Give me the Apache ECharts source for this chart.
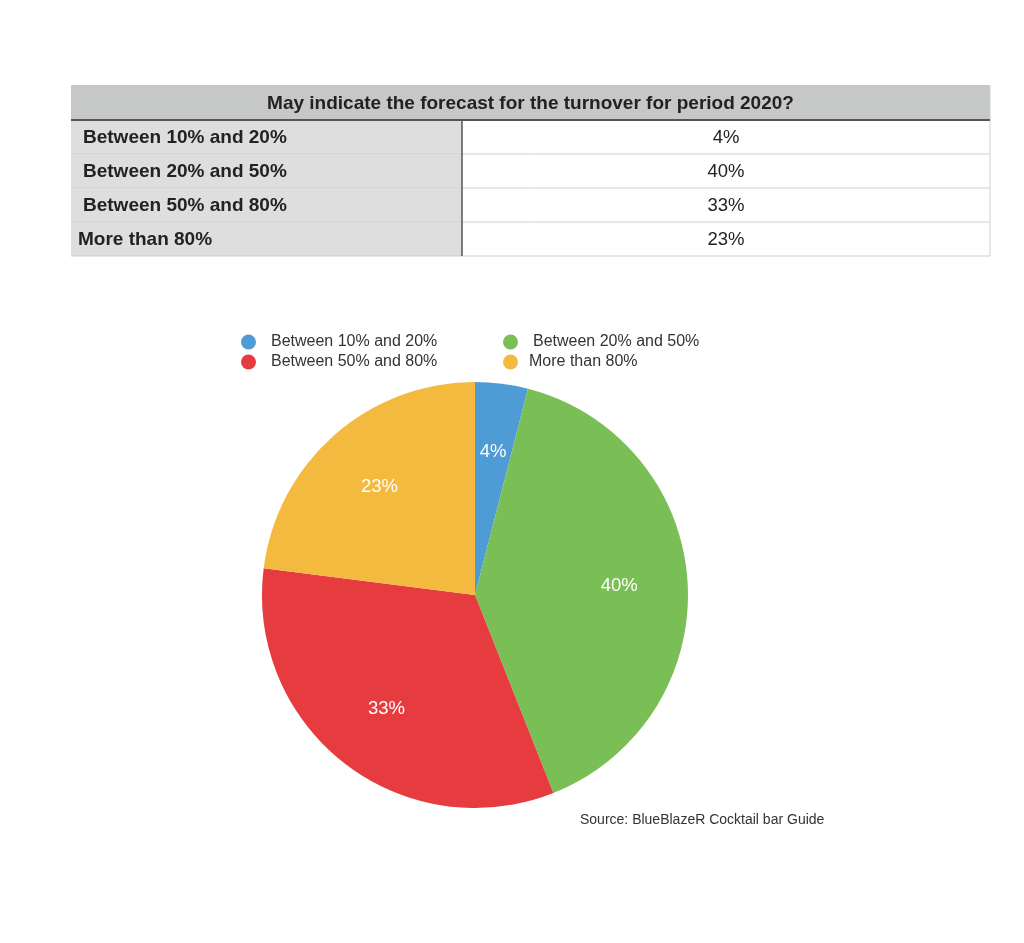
<!DOCTYPE html>
<html><head><meta charset="utf-8">
<script src="https://cdn.jsdelivr.net/npm/echarts@6/dist/echarts.min.js"></script>
<style>html,body{margin:0;padding:0;background:#fff}#c{width:1024px;height:943px}</style>
</head><body><div id="c"></div>
<script>
const tableTitle = 'May indicate the forecast for the turnover for period 2020?';
const categories = ['Between 10% and 20%', 'Between 20% and 50%', 'Between 50% and 80%', 'More than 80%'];
const values = [4, 40, 33, 23];
const valueLabels = ['4%', '40%', '33%', '23%'];
const colors = ['#4e9bd6', '#7abf56', '#e63c40', '#f4ba3f'];
const sourceText = 'Source: BlueBlazeR Cocktail bar Guide';

const FONT = '"Liberation Sans", Arial, Helvetica, sans-serif';
const chart = echarts.init(document.getElementById('c'), null, {renderer: 'canvas'});

// table graphics
const T = {x0: 71, x1: 990, xm: 462, headTop: 85, headBot: 120, rowH: 34};
const g = [];
g.push({type: 'rect', shape: {x: T.x0, y: T.headTop, width: T.x1 - T.x0, height: T.headBot - T.headTop}, style: {fill: '#c6c8c7'}});
g.push({type: 'text', style: {text: tableTitle, x: (T.x0 + T.x1) / 2, y: (T.headTop + T.headBot) / 2 + 1, align: 'center', verticalAlign: 'middle', font: 'bold 19px ' + FONT, fill: '#222'}});
categories.forEach((c, i) => {
  const y = T.headBot + i * T.rowH;
  g.push({type: 'rect', shape: {x: T.x0, y: y, width: T.xm - T.x0, height: T.rowH}, style: {fill: '#dedede'}});
  g.push({type: 'line', shape: {x1: T.x0, y1: y + T.rowH, x2: T.x1, y2: y + T.rowH}, style: {stroke: '#cfcfcf', lineWidth: 1}});
  g.push({type: 'text', style: {text: c, x: i === categories.length - 1 ? 78 : 83, y: y + T.rowH / 2 + 1, align: 'left', verticalAlign: 'middle', font: 'bold 19px ' + FONT, fill: '#222'}});
  g.push({type: 'text', style: {text: valueLabels[i], x: (T.xm + T.x1) / 2, y: y + T.rowH / 2 + 1, align: 'center', verticalAlign: 'middle', font: '18.5px ' + FONT, fill: '#222'}});
});
const tBot = T.headBot + categories.length * T.rowH;
g.push({type: 'line', shape: {x1: T.x1, y1: T.headTop, x2: T.x1, y2: tBot}, style: {stroke: '#cfcfcf', lineWidth: 1}});
g.push({type: 'line', shape: {x1: T.xm, y1: T.headBot, x2: T.xm, y2: tBot}, style: {stroke: '#555', lineWidth: 1.5}});
g.push({type: 'line', shape: {x1: T.x0, y1: T.headBot, x2: T.x1, y2: T.headBot}, style: {stroke: '#555', lineWidth: 2}});
g.push({type: 'text', style: {text: sourceText, x: 580, y: 820, align: 'left', verticalAlign: 'middle', font: '14px ' + FONT, fill: '#333'}});

const pieData = categories.map((c, i) => ({name: c, value: values[i], itemStyle: {color: colors[i]}}));
const legendCommon = {orient: 'vertical', top: 334, padding: 0, icon: 'circle', itemWidth: 15, itemHeight: 15, itemGap: 4,
  textStyle: {fontSize: 16, fontFamily: FONT, color: '#333', padding: [0, 0, 0, 10]}, selectedMode: false};

chart.setOption({
  backgroundColor: '#fff',
  animation: false,
  graphic: g,
  legend: [
    Object.assign({left: 241, data: [categories[0], categories[2]]}, legendCommon),
    Object.assign({left: 503, data: [categories[1], {name: categories[3], textStyle: {padding: [0, 0, 0, 6]}}]}, legendCommon)
  ],
  series: [
    {type: 'pie', center: [475, 595], radius: [0, 213], startAngle: 90, clockwise: true,
     label: {show: false}, labelLine: {show: false}, data: pieData, silent: true},
    {type: 'pie', center: [475, 595], radius: [70, 213], startAngle: 90, clockwise: true, silent: true,
     itemStyle: {color: 'rgba(0,0,0,0)'}, legendHoverLink: false,
     label: {show: true, position: 'inside', color: '#fff', fontSize: 18.5, fontFamily: FONT,
       formatter: p => valueLabels[p.dataIndex]},
     labelLine: {show: false},
     data: categories.map((c, i) => ({name: c, value: values[i], itemStyle: {color: 'rgba(0,0,0,0)'}}))}
  ]
});
</script></body></html>
